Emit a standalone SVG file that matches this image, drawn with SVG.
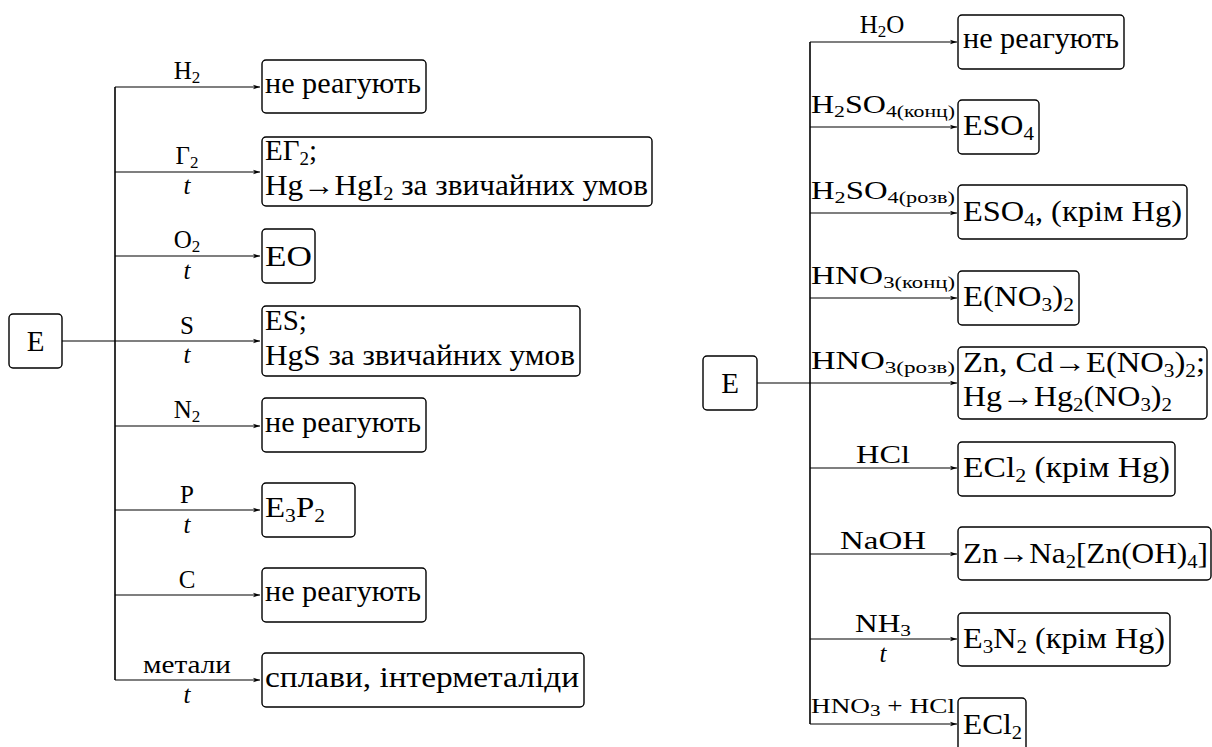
<svg xmlns="http://www.w3.org/2000/svg" width="1212" height="747" viewBox="0 0 1212 747">
<style>
text, tspan{font-family:"Liberation Serif", serif !important}
text{fill:#000}
.bt{font-size:29px}
.lb{font-size:25px}
.sm{font-size:22px}
.s{font-size:19px}
.ls{font-size:17px}
.it{font-style:italic}
.box{fill:#fff;stroke:#000;stroke-width:1.4}
.ln{stroke:#000;stroke-width:1.2;fill:none}
.vl{stroke:#000;stroke-width:1.6;fill:none}
</style>
<defs>
<marker id="ah" viewBox="0 0 8 6" refX="8" refY="3" markerWidth="7" markerHeight="5.5" markerUnits="userSpaceOnUse" orient="auto">
<path d="M0,0.4 L8,3 L0,5.6 L2,3 z" fill="#000"/>
</marker>
</defs>

<g id="connectors">
<line class="ln" x1="62" y1="341" x2="115" y2="341"/>
<line class="vl" x1="115" y1="87" x2="115" y2="680"/>
<line class="ln" x1="115" y1="87" x2="260" y2="87" marker-end="url(#ah)"/>
<line class="ln" x1="115" y1="172" x2="260" y2="172" marker-end="url(#ah)"/>
<line class="ln" x1="115" y1="256" x2="260" y2="256" marker-end="url(#ah)"/>
<line class="ln" x1="115" y1="341" x2="260" y2="341" marker-end="url(#ah)"/>
<line class="ln" x1="115" y1="426" x2="260" y2="426" marker-end="url(#ah)"/>
<line class="ln" x1="115" y1="510" x2="260" y2="510" marker-end="url(#ah)"/>
<line class="ln" x1="115" y1="595" x2="260" y2="595" marker-end="url(#ah)"/>
<line class="ln" x1="115" y1="680" x2="260" y2="680" marker-end="url(#ah)"/>

<line class="ln" x1="757" y1="383" x2="810" y2="383"/>
<line class="vl" x1="810" y1="42" x2="810" y2="724"/>
<line class="ln" x1="810" y1="42" x2="957" y2="42" marker-end="url(#ah)"/>
<line class="ln" x1="810" y1="127" x2="957" y2="127" marker-end="url(#ah)"/>
<line class="ln" x1="810" y1="213" x2="957" y2="213" marker-end="url(#ah)"/>
<line class="ln" x1="810" y1="298" x2="957" y2="298" marker-end="url(#ah)"/>
<line class="ln" x1="810" y1="383" x2="957" y2="383" marker-end="url(#ah)"/>
<line class="ln" x1="810" y1="468" x2="957" y2="468" marker-end="url(#ah)"/>
<line class="ln" x1="810" y1="554" x2="957" y2="554" marker-end="url(#ah)"/>
<line class="ln" x1="810" y1="639" x2="957" y2="639" marker-end="url(#ah)"/>
<line class="ln" x1="810" y1="724" x2="957" y2="724" marker-end="url(#ah)"/>

<!-- left labels -->
<text style="font-family:'Liberation Serif',serif !important" class="lb" x="187" y="79" text-anchor="middle">H<tspan class="ls" dy="4">2</tspan></text>
<text style="font-family:'Liberation Serif',serif !important" class="lb" x="187" y="164" text-anchor="middle">Γ<tspan class="ls" dy="4">2</tspan></text>
<text style="font-family:'Liberation Serif',serif !important" class="lb it" x="187" y="194" text-anchor="middle">t</text>
<text style="font-family:'Liberation Serif',serif !important" class="lb" x="187" y="248" text-anchor="middle">O<tspan class="ls" dy="4">2</tspan></text>
<text style="font-family:'Liberation Serif',serif !important" class="lb it" x="187" y="279" text-anchor="middle">t</text>
<text style="font-family:'Liberation Serif',serif !important" class="lb" x="187" y="334" text-anchor="middle">S</text>
<text style="font-family:'Liberation Serif',serif !important" class="lb it" x="187" y="363" text-anchor="middle">t</text>
<text style="font-family:'Liberation Serif',serif !important" class="lb" x="187" y="418" text-anchor="middle">N<tspan class="ls" dy="4">2</tspan></text>
<text style="font-family:'Liberation Serif',serif !important" class="lb" x="187" y="503" text-anchor="middle">P</text>
<text style="font-family:'Liberation Serif',serif !important" class="lb it" x="187" y="533" text-anchor="middle">t</text>
<text style="font-family:'Liberation Serif',serif !important" class="lb" x="187" y="588" text-anchor="middle">C</text>
<text style="font-family:'Liberation Serif',serif !important" class="lb" x="187" y="673" text-anchor="middle" textLength="88" lengthAdjust="spacingAndGlyphs">метали</text>
<text style="font-family:'Liberation Serif',serif !important" class="lb it" x="187" y="703" text-anchor="middle">t</text>

<!-- right labels -->
<text style="font-family:'Liberation Serif',serif !important" class="lb" x="882" y="33" text-anchor="middle">H<tspan class="ls" dy="4">2</tspan><tspan dy="-4">O</tspan></text>
<text style="font-family:'Liberation Serif',serif !important" class="lb" x="811" y="113" textLength="144" lengthAdjust="spacingAndGlyphs">H<tspan class="ls" dy="4">2</tspan><tspan dy="-4">SO</tspan><tspan class="ls" dy="4">4(конц)</tspan></text>
<text style="font-family:'Liberation Serif',serif !important" class="lb" x="811" y="199" textLength="144" lengthAdjust="spacingAndGlyphs">H<tspan class="ls" dy="4">2</tspan><tspan dy="-4">SO</tspan><tspan class="ls" dy="4">4(розв)</tspan></text>
<text style="font-family:'Liberation Serif',serif !important" class="lb" x="811" y="284" textLength="144" lengthAdjust="spacingAndGlyphs">HNO<tspan class="ls" dy="4">3(конц)</tspan></text>
<text style="font-family:'Liberation Serif',serif !important" class="lb" x="811" y="369" textLength="144" lengthAdjust="spacingAndGlyphs">HNO<tspan class="ls" dy="4">3(розв)</tspan></text>
<text style="font-family:'Liberation Serif',serif !important" class="lb" x="883" y="463" text-anchor="middle" textLength="54" lengthAdjust="spacingAndGlyphs">HCl</text>
<text style="font-family:'Liberation Serif',serif !important" class="lb" x="883" y="549" text-anchor="middle" textLength="86" lengthAdjust="spacingAndGlyphs">NaOH</text>
<text style="font-family:'Liberation Serif',serif !important" class="lb" x="883" y="632" text-anchor="middle" textLength="56" lengthAdjust="spacingAndGlyphs">NH<tspan class="ls" dy="4">3</tspan></text>
<text style="font-family:'Liberation Serif',serif !important" class="lb it" x="883" y="662" text-anchor="middle">t</text>
<text style="font-family:'Liberation Serif',serif !important" class="sm" x="811" y="713" textLength="144" lengthAdjust="spacingAndGlyphs">HNO<tspan class="ls" dy="3">3</tspan><tspan dy="-3"> + HCl</tspan></text>
</g>

<g id="E-left">
<rect class="box" x="9" y="314" width="53" height="54" rx="4"/>
<text style="font-family:'Liberation Serif',serif !important" class="bt" x="35.5" y="351" text-anchor="middle">E</text>
</g>
<g id="left-h2">
<rect class="box" x="262" y="60" width="164" height="53" rx="4"/>
<text style="font-family:'Liberation Serif',serif !important" class="bt" x="265" y="93" textLength="156" lengthAdjust="spacingAndGlyphs">не реагують</text>
</g>
<g id="left-g2">
<rect class="box" x="262" y="137" width="390" height="69" rx="4"/>
<text style="font-family:'Liberation Serif',serif !important" class="bt" x="265" y="160">EΓ<tspan class="s" dy="5">2</tspan><tspan dy="-5">;</tspan></text>
<text style="font-family:'Liberation Serif',serif !important" class="bt" x="265" y="195" textLength="383" lengthAdjust="spacingAndGlyphs">Hg→HgI<tspan class="s" dy="5">2</tspan><tspan dy="-5"> за звичайних умов</tspan></text>
</g>
<g id="left-o2">
<rect class="box" x="262" y="229" width="53" height="54" rx="4"/>
<text style="font-family:'Liberation Serif',serif !important" class="bt" x="265" y="266" textLength="47" lengthAdjust="spacingAndGlyphs">EO</text>
</g>
<g id="left-s">
<rect class="box" x="262" y="306" width="318" height="70" rx="4"/>
<text style="font-family:'Liberation Serif',serif !important" class="bt" x="265" y="330">ES;</text>
<text style="font-family:'Liberation Serif',serif !important" class="bt" x="265" y="365" textLength="310" lengthAdjust="spacingAndGlyphs">HgS за звичайних умов</text>
</g>
<g id="left-n2">
<rect class="box" x="262" y="398" width="164" height="54" rx="4"/>
<text style="font-family:'Liberation Serif',serif !important" class="bt" x="265" y="432" textLength="156" lengthAdjust="spacingAndGlyphs">не реагують</text>
</g>
<g id="left-p">
<rect class="box" x="262" y="483" width="93" height="54" rx="4"/>
<text style="font-family:'Liberation Serif',serif !important" class="bt" x="265" y="517" textLength="60" lengthAdjust="spacingAndGlyphs">E<tspan class="s" dy="5">3</tspan><tspan dy="-5">P</tspan><tspan class="s" dy="5">2</tspan></text>
</g>
<g id="left-c">
<rect class="box" x="262" y="568" width="164" height="54" rx="4"/>
<text style="font-family:'Liberation Serif',serif !important" class="bt" x="265" y="601" textLength="156" lengthAdjust="spacingAndGlyphs">не реагують</text>
</g>
<g id="left-met">
<rect class="box" x="262" y="653" width="322" height="54" rx="4"/>
<text style="font-family:'Liberation Serif',serif !important" class="bt" x="265" y="687" textLength="314" lengthAdjust="spacingAndGlyphs">сплави, інтерметаліди</text>
</g>

<g id="E-right">
<rect class="box" x="703" y="356" width="54" height="54" rx="4"/>
<text style="font-family:'Liberation Serif',serif !important" class="bt" x="730" y="393" text-anchor="middle">E</text>
</g>
<g id="right-h2o">
<rect class="box" x="958" y="15" width="166" height="54" rx="4"/>
<text style="font-family:'Liberation Serif',serif !important" class="bt" x="963" y="48" textLength="156" lengthAdjust="spacingAndGlyphs">не реагують</text>
</g>
<g id="right-h2so4-k">
<rect class="box" x="958" y="100" width="81" height="54" rx="4"/>
<text style="font-family:'Liberation Serif',serif !important" class="bt" x="963" y="135" textLength="71" lengthAdjust="spacingAndGlyphs">ESO<tspan class="s" dy="5">4</tspan></text>
</g>
<g id="right-h2so4-r">
<rect class="box" x="958" y="185" width="229" height="54" rx="4"/>
<text style="font-family:'Liberation Serif',serif !important" class="bt" x="963" y="221" textLength="219" lengthAdjust="spacingAndGlyphs">ESO<tspan class="s" dy="5">4</tspan><tspan dy="-5">, (крім Hg)</tspan></text>
</g>
<g id="right-hno3-k">
<rect class="box" x="958" y="271" width="121" height="54" rx="4"/>
<text style="font-family:'Liberation Serif',serif !important" class="bt" x="963" y="306" textLength="111" lengthAdjust="spacingAndGlyphs">E(NO<tspan class="s" dy="5">3</tspan><tspan dy="-5">)</tspan><tspan class="s" dy="5">2</tspan></text>
</g>
<g id="right-hno3-r">
<rect class="box" x="958" y="347" width="249" height="72" rx="4"/>
<text style="font-family:'Liberation Serif',serif !important" class="bt" x="963" y="372" textLength="242" lengthAdjust="spacingAndGlyphs">Zn, Cd→E(NO<tspan class="s" dy="5">3</tspan><tspan dy="-5">)</tspan><tspan class="s" dy="5">2</tspan><tspan dy="-5">;</tspan></text>
<text style="font-family:'Liberation Serif',serif !important" class="bt" x="963" y="406" textLength="209" lengthAdjust="spacingAndGlyphs">Hg→Hg<tspan class="s" dy="5">2</tspan><tspan dy="-5">(NO</tspan><tspan class="s" dy="5">3</tspan><tspan dy="-5">)</tspan><tspan class="s" dy="5">2</tspan></text>
</g>
<g id="right-hcl">
<rect class="box" x="958" y="442" width="217" height="54" rx="4"/>
<text style="font-family:'Liberation Serif',serif !important" class="bt" x="963" y="477" textLength="207" lengthAdjust="spacingAndGlyphs">ECl<tspan class="s" dy="5">2</tspan><tspan dy="-5"> (крім Hg)</tspan></text>
</g>
<g id="right-naoh">
<rect class="box" x="958" y="527" width="253" height="53" rx="4"/>
<text style="font-family:'Liberation Serif',serif !important" class="bt" x="963" y="563" textLength="245" lengthAdjust="spacingAndGlyphs">Zn→Na<tspan class="s" dy="5">2</tspan><tspan dy="-5">[Zn(OH)</tspan><tspan class="s" dy="5">4</tspan><tspan dy="-5">]</tspan></text>
</g>
<g id="right-nh3">
<rect class="box" x="958" y="613" width="212" height="53" rx="4"/>
<text style="font-family:'Liberation Serif',serif !important" class="bt" x="963" y="648" textLength="202" lengthAdjust="spacingAndGlyphs">E<tspan class="s" dy="5">3</tspan><tspan dy="-5">N</tspan><tspan class="s" dy="5">2</tspan><tspan dy="-5"> (крім Hg)</tspan></text>
</g>
<g id="right-aqua">
<rect class="box" x="958" y="698" width="68" height="58" rx="4"/>
<text style="font-family:'Liberation Serif',serif !important" class="bt" x="963" y="734" textLength="59" lengthAdjust="spacingAndGlyphs">ECl<tspan class="s" dy="5">2</tspan></text>
</g>
</svg>
